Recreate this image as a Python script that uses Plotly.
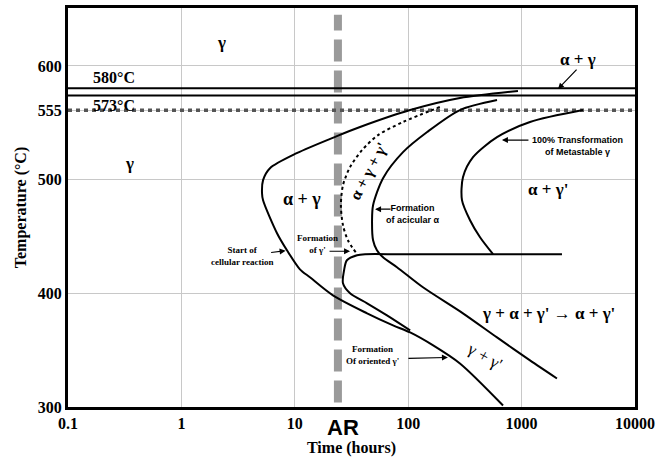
import plotly.graph_objects as go
import math

# ---- data (time in hours, temperature in °C) ----
cell_t = [929, 286, 104, 37.6, 23.5, 10.4, 6.04, 5.25, 5.14, 5.25, 6.97, 8.53, 11.1, 13.6, 21.7, 43.4, 73.5, 104, 166, 286, 686]
cell_T = [578, 571.8, 561.2, 546.3, 538.3, 523.3, 510.1, 499.6, 488.1, 481.9, 452.9, 437.9, 421.1, 414.1, 398.2, 382.4, 371.8, 365.6, 354.2, 338.3, 301.3]

orient_t = [2270, 400, 84.7, 41.6, 35.4, 28.8, 27.2, 26.6, 30.7, 43.4, 65, 104]
orient_T = [434.4, 434.4, 434.4, 434.4, 433.5, 429.1, 420.3, 408.8, 400.0, 391.2, 380.6, 367.4]

gprime_t = [190, 90, 54.2, 39.2, 30.7, 26.6, 25.5, 26.6, 29.4, 35.4]
gprime_T = [563.9, 550.7, 539.2, 526.0, 511.0, 495.2, 477.5, 459.9, 446.7, 434.4]

acic_t = [607, 286, 147, 90, 60, 49, 48, 49, 53, 60, 79.6, 135, 304, 607, 1186, 2050]
acic_T = [570, 561.2, 541.9, 524.2, 501.3, 477.5, 464.3, 446.7, 437.9, 431.7, 423, 405.3, 382.4, 361.2, 341, 325.1]

full_t = [3475, 1186, 607, 373, 304, 298, 351, 430, 560]
full_T = [561.2, 550.7, 537.4, 519.8, 502.2, 482, 464.3, 449.3, 434.4]

line580 = 580.5
line573 = 574.0
line555 = 561.0
ar_time = 24

x_ticks = [0.1, 1, 10, 100, 1000, 10000]
x_tick_text = ["0.1", "1", "10", "100", "1000", "10000"]
y_ticks = [300, 400, 500, 561, 600]
y_tick_text = ["300", "400", "500", "555", "600"]
x_span = [0.1, 10000]
y_span = [300, 651]

SERIF = "Liberation Serif, Times New Roman, serif"
SANS = "Liberation Sans, Arial, sans-serif"
L = math.log10

fig = go.Figure()

# AR dashed vertical line
fig.add_trace(go.Scatter(x=[ar_time, ar_time], y=[y_span[0] + 4, y_span[1] - 6], mode="lines",
                         line=dict(color="#9a9a9a", width=8, dash="22px,9px"), hoverinfo="skip"))
# horizontal reference lines
for yv in (line580, line573):
    fig.add_trace(go.Scatter(x=x_span, y=[yv, yv], mode="lines",
                             line=dict(color="black", width=2), hoverinfo="skip"))
fig.add_trace(go.Scatter(x=x_span, y=[line555, line555], mode="lines",
                         line=dict(color="#555555", width=3.5, dash="4px,4px"), hoverinfo="skip"))

def curve(t, T, dash="solid", width=2):
    fig.add_trace(go.Scatter(x=t, y=T, mode="lines", line=dict(color="black", width=width, dash=dash,
                                                              shape="spline", smoothing=0.8),
                             hoverinfo="skip"))

curve(cell_t, cell_T)
curve(orient_t, orient_T)
curve(gprime_t, gprime_T, dash="3px,3px")
curve(acic_t, acic_T)
curve(full_t, full_T)

def label(x, y, text, size=17, font=SERIF, angle=0, align="center"):
    fig.add_annotation(x=x, y=y, xref="x", yref="y", text=text, showarrow=False, textangle=angle,
                       align=align, font=dict(family=font, size=size, color="black"))

def arrow(x, y, ax, ay):
    fig.add_annotation(x=x, y=y, xref="x", yref="y", text="", showarrow=True, ax=ax, ay=ay,
                       arrowhead=2, arrowsize=1, arrowwidth=1.2, arrowcolor="black")

label(L(2.28), 621, "<b>γ</b>")
label(L(0.352), 514.5, "<b>γ</b>")
label(L(0.255), 589.5, "<b>580°C</b>", size=16)
label(L(0.255), 565, "<b>573°C</b>", size=16)
label(L(11.6), 483, "<b>α + γ</b>", size=18)
label(L(3140), 606, "<b>α + γ</b>", size=17)
label(L(45), 508, "<b>α + γ + γ'</b>", size=16, angle=-62)
label(L(1710), 491, "<b>α + γ'</b>", size=17)
label(L(1710), 382.5, "<b>γ + α + γ' → α + γ'</b>", size=17)
label(L(475), 344.5, "γ + γ'", size=17, angle=30)

label(L(3140), 529.5, "<b>100% Transformation<br>of Metastable γ</b>", size=9, font=SANS)
label(L(110), 469.5, "<b>Formation<br>of acicular α</b>", size=9, font=SANS)
label(L(3.42), 432.5, "<b>Start of<br>cellular reaction</b>", size=9)
label(L(15.7), 443, "<b>Formation<br>of γ'</b>", size=9)
label(L(48), 346, "<b>Formation<br>Of oriented γ'</b>", size=9)

arrow(L(2094), 579.7, 20, -21)
arrow(L(671), 534.8, 28, 0)
arrow(L(51), 474, 17, 0)
arrow(L(8.3), 437.5, -16, 2)
arrow(L(30.7), 437, -22, 0)
arrow(L(224), 343.6, -41, 1)

fig.add_annotation(x=L(ar_time), xshift=5, y=-0.052, xref="x", yref="paper", yanchor="middle",
                   text="<b>AR</b>", showarrow=False, font=dict(family=SANS, size=22, color="black"))

fig.update_layout(
    width=656, height=457, showlegend=False,
    margin=dict(l=68, r=21, t=8, b=50),
    paper_bgcolor="white", plot_bgcolor="white",
    font=dict(family=SERIF, color="black"),
)
fig.update_xaxes(type="log", range=[L(x_span[0]), L(x_span[1])], tickvals=x_ticks, ticktext=x_tick_text,
                 showgrid=True, gridcolor="#c8c8c8", gridwidth=1, zeroline=False, automargin=False,
                 showline=True, linecolor="black", linewidth=3, mirror=True, ticks="",
                 tickfont=dict(family=SERIF, size=16, color="black", weight="bold"),
                 title=dict(text="<b>Time (hours)</b>", font=dict(family=SERIF, size=16), standoff=19))
fig.update_yaxes(range=y_span, tickvals=y_ticks, ticktext=y_tick_text,
                 showgrid=True, gridcolor="#c8c8c8", gridwidth=1, zeroline=False, automargin=False,
                 showline=True, linecolor="black", linewidth=3, mirror=True, ticks="",
                 tickfont=dict(family=SERIF, size=16, color="black", weight="bold"),
                 title=dict(text="<b>Temperature (°C)</b>", font=dict(family=SERIF, size=16), standoff=8))

fig.write_html("out.html")
